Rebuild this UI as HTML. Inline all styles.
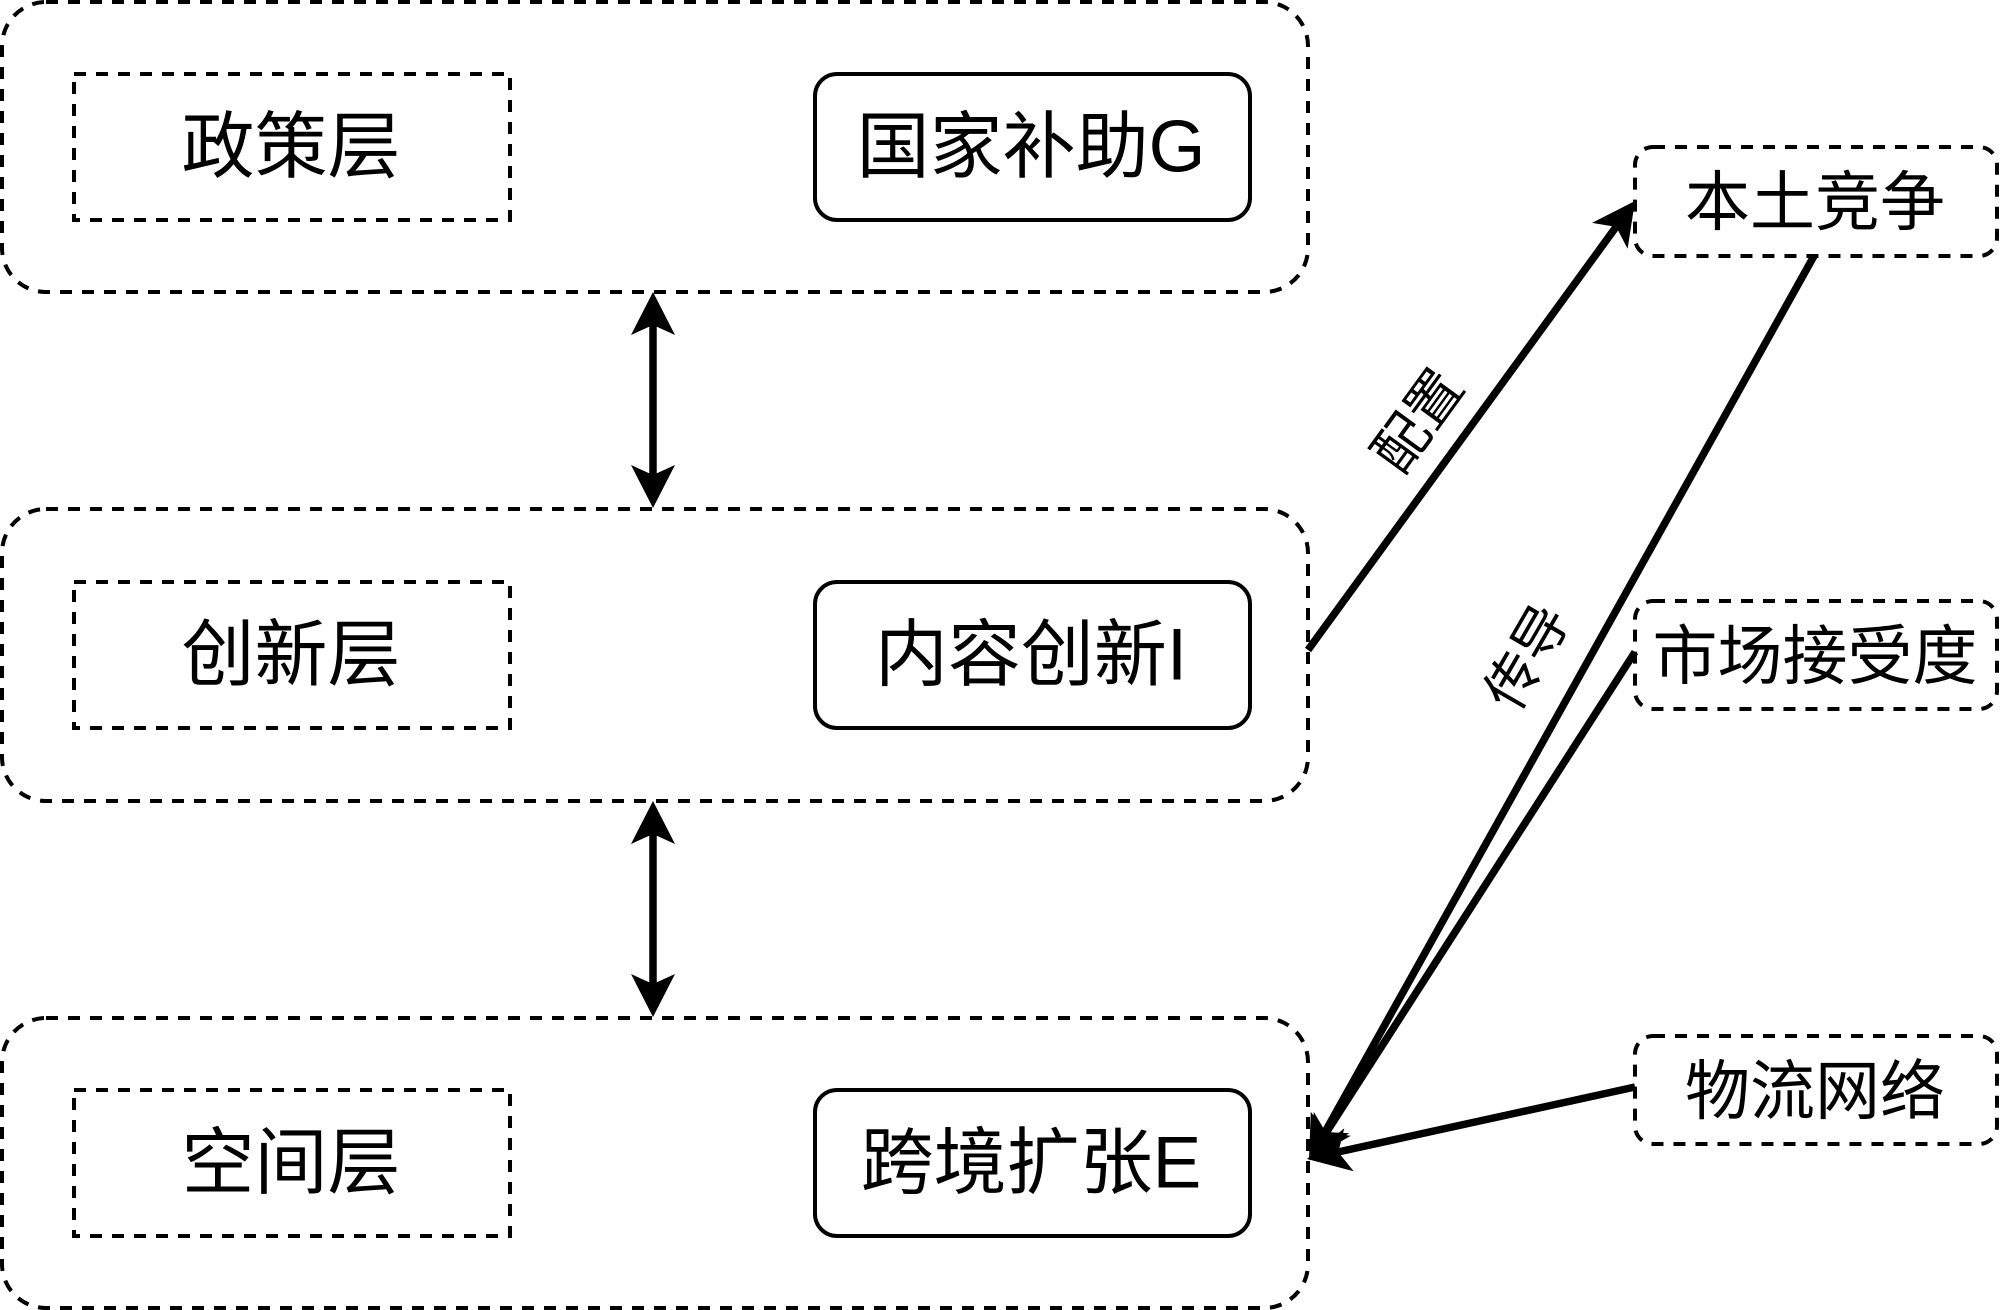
<!DOCTYPE html>
<html><head><meta charset="utf-8"><style>
html,body{margin:0;padding:0;background:#fff}
svg{display:block}
text{font-family:"Liberation Sans","Noto Sans CJK SC",sans-serif;fill:#000;text-anchor:middle;dominant-baseline:central}
.d{fill:#fff;stroke:#000;stroke-width:4;stroke-dasharray:12 10}
.s{fill:#fff;stroke:#000;stroke-width:4}
.l{stroke:#000;stroke-width:7.5;fill:none}
</style></head><body>
<svg width="2000" height="1310" viewBox="0 0 2000 1310" xmlns="http://www.w3.org/2000/svg">
<rect width="2000" height="1310" fill="#fff"/>
<rect class="d" x="2" y="2" width="1306" height="290" rx="44"/>
<rect class="d" x="2" y="509" width="1306" height="292" rx="44"/>
<rect class="d" x="2" y="1018" width="1306" height="290" rx="44"/>
<rect class="d" x="74" y="74" width="436" height="146"/>
<rect class="d" x="74" y="582" width="436" height="146"/>
<rect class="d" x="74" y="1090" width="436" height="146"/>
<rect class="s" x="815" y="74" width="435" height="146" rx="22"/>
<rect class="s" x="815" y="582" width="435" height="146" rx="22"/>
<rect class="s" x="815" y="1090" width="435" height="146" rx="22"/>
<rect class="d" x="1635" y="147" width="362" height="109" rx="18"/>
<rect class="d" x="1635" y="601" width="362" height="108" rx="18"/>
<rect class="d" x="1635" y="1036" width="362" height="108" rx="18"/>

<text x="291" y="147" font-size="73">政策层</text>
<text x="291" y="655" font-size="73">创新层</text>
<text x="291" y="1163" font-size="73">空间层</text>
<text x="1031" y="147" font-size="73">国家补助G</text>
<text x="1031" y="655" font-size="73">内容创新I</text>
<text x="1031" y="1163" font-size="73">跨境扩张E</text>
<text x="1815" y="202" font-size="65">本土竞争</text>
<text x="1815" y="656" font-size="65">市场接受度</text>
<text x="1815" y="1091" font-size="65">物流网络</text>

<text transform="translate(1418,421) rotate(-54)" font-size="55">配置</text>
<text transform="translate(1527,657) rotate(-60)" font-size="55">传导</text>

<line class="l" x1="653" y1="325" x2="653" y2="476"/>
<polygon points="653,292 675,335 653,325 631,335"/>
<polygon points="653,508 675,465 653,475 631,465"/>
<line class="l" x1="653" y1="834" x2="653" y2="985"/>
<polygon points="653,801 675,844 653,834 631,844"/>
<polygon points="653,1017 675,974 653,984 631,974"/>

<line class="l" x1="1308" y1="650" x2="1616" y2="227"/>
<polygon points="1635,201 1627.6,248.7 1616.2,226.9 1592,222.9"/>

<line class="l" x1="1814" y1="256" x2="1325" y2="1132"/>
<polygon points="1309,1160 1349.2,1133.2 1324.6,1132 1310.8,1111.8"/>
<line class="l" x1="1635" y1="652" x2="1326" y2="1133"/>
<polygon points="1309,1160 1350.8,1135.7 1326.3,1133.1 1313.8,1111.9"/>
<line class="l" x1="1635" y1="1087" x2="1338" y2="1152"/>
<polygon points="1307,1159 1353.7,1171.3 1338.3,1152.2 1344.3,1128.3"/>
</svg>
</body></html>
